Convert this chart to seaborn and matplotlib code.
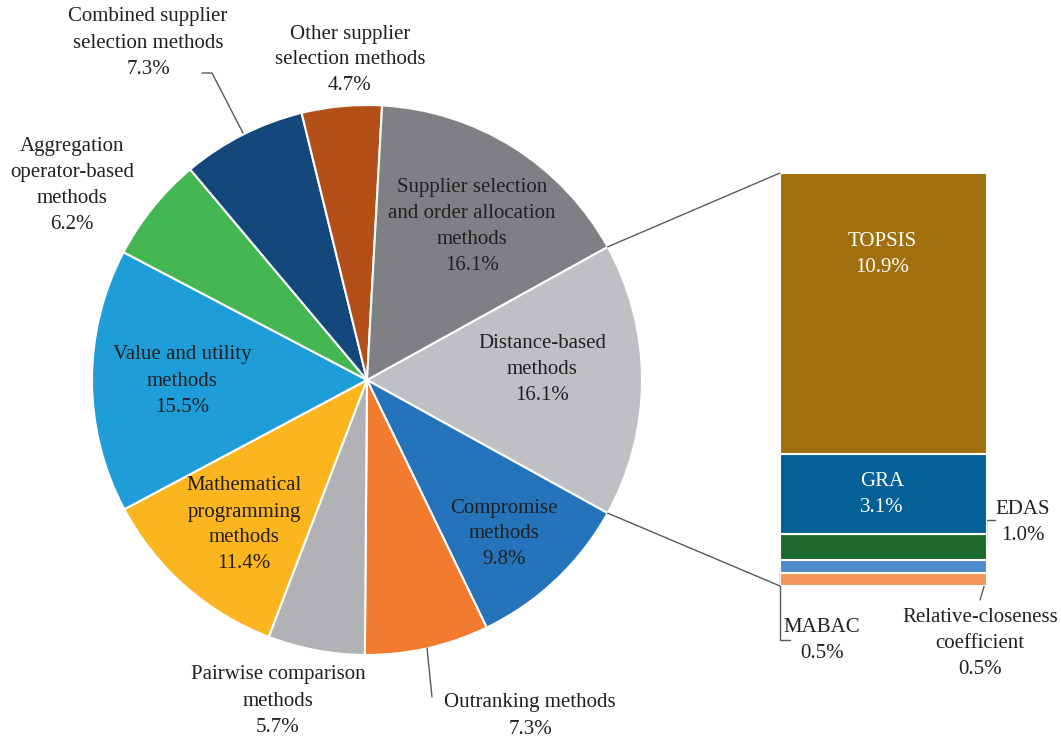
import matplotlib
matplotlib.use("Agg")
import matplotlib.pyplot as plt
from matplotlib.patches import ConnectionPatch
import numpy as np
import seaborn as sns

# Pie slices, listed clockwise starting with the exploded "Distance-based" slice
pie_labels = [
    "Distance-based\nmethods",
    "Compromise\nmethods",
    "Outranking methods",
    "Pairwise comparison\nmethods",
    "Mathematical\nprogramming\nmethods",
    "Value and utility\nmethods",
    "Aggregation\noperator-based\nmethods",
    "Combined supplier\nselection methods",
    "Other supplier\nselection methods",
    "Supplier selection\nand order allocation\nmethods",
]
pie_values = [16.1, 9.8, 7.3, 5.7, 11.4, 15.5, 6.2, 7.3, 4.7, 16.1]
pie_colors = ["#BFC0C3", "#2473BB", "#F37B30", "#B1B2B5", "#FBB51E",
              "#1F9DD8", "#44B652", "#14477C", "#B44F1A", "#7F8084"]

# Breakdown of distance-based methods, stacked from the bottom up
bar_labels = ["Relative-closeness\ncoefficient", "MABAC", "EDAS", "GRA", "TOPSIS"]
bar_values = [0.5, 0.5, 1.0, 3.1, 10.9]
bar_colors = ["#F59458", "#4E8BCA", "#1D6A2C", "#046096", "#A0700F"]

sns.set_theme(style="white")
plt.rcParams["font.family"] = ["Liberation Serif", "DejaVu Serif"]
TXT = "#231F20"
FS = 15
LS = 1.5

W, H = 1061, 744
fig = plt.figure(figsize=(W / 100, H / 100), dpi=100)
ax = fig.add_axes([0, 0, 1, 1])

def py(y):
    return H - y

cx, cy, r = 367, py(380), 275
start = 360 * pie_values[0] / sum(pie_values) / 2
wedges, _ = ax.pie(pie_values, colors=pie_colors, radius=r, center=(cx, cy),
                   startangle=start, counterclock=False,
                   wedgeprops=dict(edgecolor="white", linewidth=1.5))
ax.set_xlim(0, W)
ax.set_ylim(0, H)
ax.set_aspect("equal")
ax.axis("off")

def pct(v):
    return f"{v:.1f}%"

def label(x, y, s, color=TXT, target=None):
    (target or ax).text(x, py(y), s, ha="center", va="center", fontsize=FS,
                        color=color, linespacing=LS, transform=ax.transData)

# Slice labels
label_pos = [
    (542, 369), (504, 534), (530, 716), (278, 701), (244, 525),
    (182, 381), (72, 185.5), (148, 43), (350, 60), (472, 226.5),
]
for lab, v, (x, y) in zip(pie_labels, pie_values, label_pos):
    label(x, y, f"{lab}\n{pct(v)}")

# Leader lines for outside labels
lc = "#58595B"
ax.plot([202, 212, 243], [py(73), py(73), py(133)], color=lc, lw=1)
ax.plot([427, 432], [py(648), py(697)], color=lc, lw=1)

# Stacked bar for the distance-based breakdown
bx = fig.add_axes([780 / W, py(586) / H, 207 / W, 413 / H])
bottoms = np.concatenate([[0], np.cumsum(bar_values)[:-1]])
bx.bar([0] * len(bar_values), bar_values, bottom=bottoms, width=1.0,
       color=bar_colors, edgecolor="white", linewidth=1.5)
total = float(np.sum(bar_values))
bx.set_xlim(-0.5, 0.5)
bx.set_ylim(0, total)
bx.axis("off")

# Segment labels
label(882, 255, f"{bar_labels[4]}\n{pct(bar_values[4])}", color="white", target=bx)
label(882, 495, f"{bar_labels[3]}\n{pct(bar_values[3])}", color="white", target=bx)
label(1023, 522, f"{bar_labels[2]}\n{pct(bar_values[2])}")
label(822, 640, f"{bar_labels[1]}\n{pct(bar_values[1])}")
label(980, 644, f"{bar_labels[0]}\n{pct(bar_values[0])}")
ax.plot([995, 986, 986], [py(520), py(520), py(546)], color=lc, lw=1)
ax.plot([780, 780, 790], [py(567), py(640), py(640)], color=lc, lw=1)
ax.plot([986, 980], [py(580), py(600)], color=lc, lw=1)

# Connectors from the distance-based slice edges to the bar corners
th = np.deg2rad(start)
for sign, yb in ((1, total), (-1, 0)):
    p = (cx + r * np.cos(th), cy + sign * r * np.sin(th))
    con = ConnectionPatch(xyA=p, coordsA=ax.transData, xyB=(-0.5, yb),
                          coordsB=bx.transData, color=lc, lw=1)
    fig.add_artist(con)

fig.savefig("out.png", dpi=100, facecolor="white")
